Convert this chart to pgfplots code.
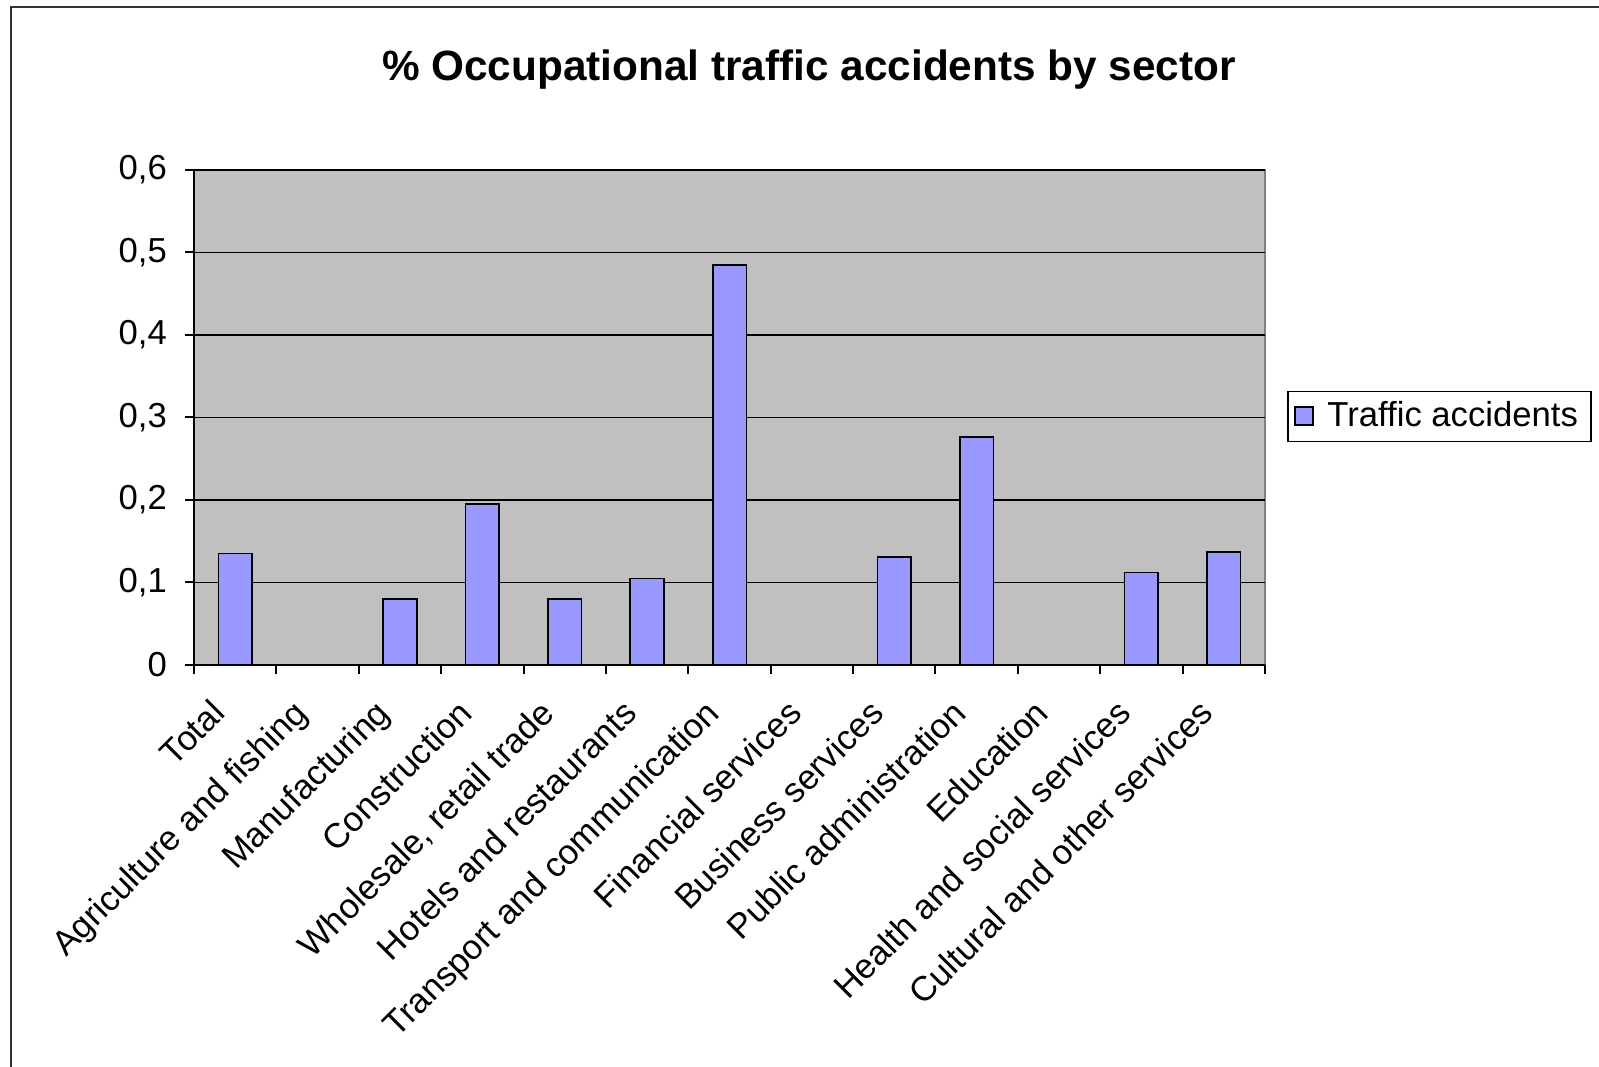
\documentclass[border=0pt]{standalone}
\usepackage{fontspec}
\setmainfont{Liberation Sans}
\usepackage{pgfplots}
\pgfplotsset{compat=1.18}
\definecolor{barfill}{HTML}{9999FF}
\definecolor{plotbg}{HTML}{C0C0C0}
\definecolor{plotedge}{HTML}{808080}
\pgfplotstableread{
x y
0 0.135
1 0
2 0.080
3 0.195
4 0.080
5 0.105
6 0.485
7 0
8 0.131
9 0.276
10 0
11 0.112
12 0.137
}\datatable
\begin{document}
\begin{tikzpicture}
\useasboundingbox (0,0) rectangle (479.7pt,320.1pt);
\fill[white] (0,0) rectangle (479.7pt,320.1pt);
\draw[line width=0.6pt, black!80] (3.3pt,-10pt) -- (3.3pt,318pt) -- (490pt,318pt);
\node[font=\fontsize{12.7}{15}\selectfont\bfseries] at (242.7pt,299.1pt) {\% Occupational traffic accidents by sector};
\begin{axis}[
  at={(58.2pt,120.6pt)}, anchor=south west,
  scale only axis, width=321.3pt, height=148.5pt,
  xmin=-0.5, xmax=12.5, ymin=0, ymax=0.6,
  axis x line*=bottom, axis y line*=left,
  axis line style={black, line width=0.6pt},
  axis background/.style={fill=plotbg, draw=plotedge, line width=0.5pt},
  separate axis lines,
  x axis line style={-}, y axis line style={-},
  xtick={0,...,12},
  xticklabels={Total, Agriculture and fishing, Manufacturing, Construction, {Wholesale, retail trade}, Hotels and restaurants, Transport and communication, Financial services, Business services, Public administration, Education, Health and social services, Cultural and other services},
  major x tick style={draw=none},
  minor xtick={-0.5,0.5,...,12.5},
  minor x tick style={black, line width=0.6pt},
  minor tick length=2.6pt,
  tick align=outside,
  ytick={0,0.1,...,0.6},
  major tick length=2.6pt,
  y tick style={black, line width=0.6pt},
  ymajorgrids, grid style={black, line width=0.5pt},
  /pgf/number format/fixed, /pgf/number format/precision=1,
  /pgf/number format/use comma, /pgf/number format/assume math mode=true,
  xticklabel style={xshift=-7.9pt, yshift=-5.5pt, rotate=45, anchor=north east, inner sep=1pt},
  ticklabel style={font=\fontsize{10.4}{12}\selectfont},
  yticklabel style={xshift=-2pt},
  legend style={at={(1.0205,0.502)}, anchor=west, draw=black, line width=0.5pt, font=\fontsize{10.4}{12}\selectfont, inner xsep=2pt, inner ysep=1pt, legend cell align=left},
  legend image code/.code={\draw[fill=barfill, draw=black, line width=0.5pt] (0pt,-2.6pt) rectangle (5.4pt,2.8pt);},
]
\addplot[ybar, bar width=10.1pt, fill=barfill, draw=black, line width=0.5pt] table[x=x, y=y] {\datatable};
\addlegendentry{\hspace{2pt}Traffic accidents}
\end{axis}
\end{tikzpicture}
\end{document}
